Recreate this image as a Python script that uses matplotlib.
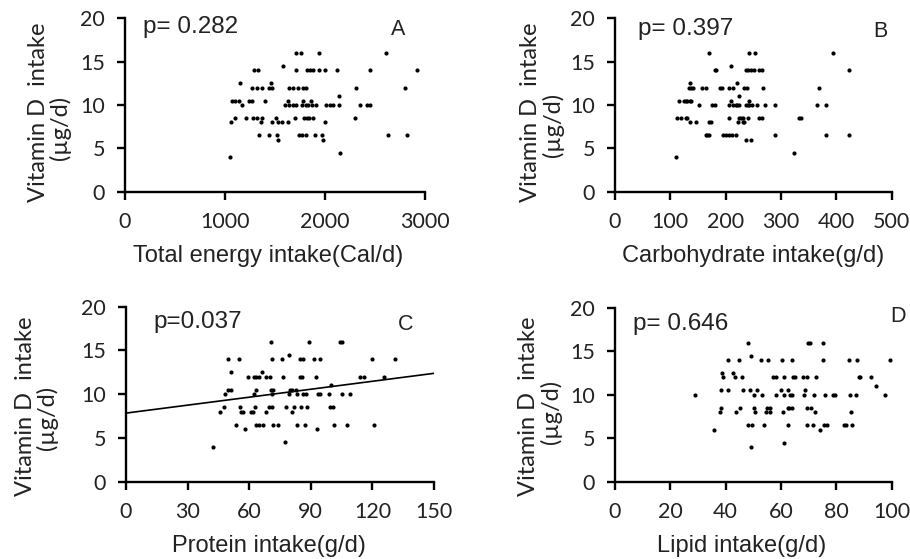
import matplotlib
matplotlib.use("Agg")
import matplotlib.pyplot as plt

W, H = 910, 559

# ---------------- data ----------------
energy = [1709, 1759, 1943, 2605,
          1581,
          1289, 1333, 1709, 1816, 1849, 1876, 1943, 2000, 2121, 2454, 2917,
          1148, 1457,
          1272, 1316, 1366, 1440, 1474, 1635, 1675, 1725, 1776, 1809, 2313, 2800,
          2138,
          1071, 1098, 1138, 1239, 1272, 1396, 1625, 1776, 1860,
          1165, 1601, 1642, 1675, 1709, 1769, 1809, 1826, 1870, 1910, 2011, 2054, 2078, 2135, 2346, 2420, 2454,
          1104, 1205, 1279, 1323, 1366, 1507, 1702, 1792, 1816, 1836, 1876, 2296,
          1061, 1356, 1467, 1534, 1574, 1625, 2004,
          1339, 1440, 1524, 1742, 1769, 1809, 1903, 1970, 2632, 2823,
          1534, 1977,
          2145,
          1054]
vitd_A = [16, 16, 16, 16,
          14.5,
          14, 14, 14, 14, 14, 14, 14, 14, 14, 14, 14,
          12.5, 12.5,
          12, 12, 12, 12, 12, 12, 12, 12, 12, 12, 12, 12,
          11,
          10.5, 10.5, 10.5, 10.5, 10.5, 10.5, 10.5, 10.5, 10.5,
          10, 10, 10, 10, 10, 10, 10, 10, 10, 10, 10, 10, 10, 10, 10, 10, 10,
          8.5, 8.5, 8.5, 8.5, 8.5, 8.5, 8.5, 8.5, 8.5, 8.5, 8.5, 8.5,
          8, 8, 8, 8, 8, 8, 8,
          6.5, 6.5, 6.5, 6.5, 6.5, 6.5, 6.5, 6.5, 6.5, 6.5,
          6, 6,
          4.5,
          4]

carbohydrate = [170, 243, 253, 395,
                209,
                181, 182, 237, 241, 246, 251, 260, 265, 423,
                135, 221,
                133, 137, 141, 158, 165, 189, 193, 206, 214, 234, 239, 268, 368,
                225,
                116, 125, 128, 131, 135, 137, 210, 243,
                151, 176, 180, 206, 214, 218, 221, 224, 237, 240, 243, 248, 257, 272, 290, 366, 382,
                113, 119, 128, 131, 206, 224, 228, 231, 241, 260, 266, 333, 336,
                135, 146, 170, 173, 222, 231, 234,
                164, 167, 170, 196, 200, 206, 212, 219, 290, 382, 423,
                237, 246,
                324,
                111]
vitd_B = [16, 16, 16, 16,
          14.5,
          14, 14, 14, 14, 14, 14, 14, 14, 14,
          12.5, 12.5,
          12, 12, 12, 12, 12, 12, 12, 12, 12, 12, 12, 12, 12,
          11,
          10.5, 10.5, 10.5, 10.5, 10.5, 10.5, 10.5, 10.5,
          10, 10, 10, 10, 10, 10, 10, 10, 10, 10, 10, 10, 10, 10, 10, 10, 10,
          8.5, 8.5, 8.5, 8.5, 8.5, 8.5, 8.5, 8.5, 8.5, 8.5, 8.5, 8.5, 8.5,
          8, 8, 8, 8, 8, 8, 8,
          6.5, 6.5, 6.5, 6.5, 6.5, 6.5, 6.5, 6.5, 6.5, 6.5, 6.5,
          6, 6,
          4.5,
          4]

protein = [70.6, 89.1, 104.0, 105.4,
           79.3,
           49.8, 54.8, 71.2, 76.1, 84.6, 86.2, 91.4, 94.6, 120.0, 131.0,
           51.2, 66.3,
           59.5, 62.4, 63.4, 64.7, 68.0, 70.2, 76.7, 84.6, 85.7, 92.4, 113.8, 115.9, 125.7,
           99.8,
           49.8, 50.9, 63.4, 70.7, 71.5, 80.0, 81.0, 82.6,
           48.1, 62.4, 70.9, 79.3, 83.3, 86.2, 87.5, 93.5, 94.5, 98.7, 105.2, 108.9,
           47.5, 55.4, 62.6, 69.6, 71.0, 78.0, 81.8, 85.4, 88.1, 99.2, 100.8,
           45.9, 56.1, 57.2, 60.7, 61.8, 68.3, 80.8,
           53.7, 63.4, 65.0, 66.7, 71.5, 74.1, 83.4, 87.2, 101.1, 107.8, 120.7,
           57.9, 93.2,
           77.4,
           42.4]
vitd_C = [16, 16, 16, 16,
          14.5,
          14, 14, 14, 14, 14, 14, 14, 14, 14, 14,
          12.5, 12.5,
          12, 12, 12, 12, 12, 12, 12, 12, 12, 12, 12, 12, 12,
          11,
          10.5, 10.5, 10.5, 10.5, 10.5, 10.5, 10.5, 10.5,
          10, 10, 10, 10, 10, 10, 10, 10, 10, 10, 10, 10,
          8.5, 8.5, 8.5, 8.5, 8.5, 8.5, 8.5, 8.5, 8.5, 8.5, 8.5,
          8, 8, 8, 8, 8, 8, 8,
          6.5, 6.5, 6.5, 6.5, 6.5, 6.5, 6.5, 6.5, 6.5, 6.5, 6.5,
          6, 6,
          4.5,
          4]
fit_C_intercept = 7.84
fit_C_slope = 0.0303
fit_C_range = [0, 150]

lipid = [48.1, 69.7, 70.5, 75.2,
         49.2,
         40.7, 44.8, 52.7, 55.2, 60.4, 64.0, 75.4, 84.6, 87.6, 99.4,
         38.8, 42.7,
         39.0, 43.4, 45.8, 57.2, 58.4, 61.2, 64.2, 65.2, 67.9, 69.5, 72.7, 88.2, 88.7, 92.5,
         94.5,
         38.4, 40.8, 46.4, 48.7, 51.2, 59.9, 62.4, 68.7,
         28.8, 50.2, 53.3, 58.4, 61.3, 63.4, 64.0, 68.2, 71.9, 76.0, 78.8, 79.4, 85.1, 87.0, 97.8,
         38.4, 45.1, 50.3, 54.8, 56.2, 62.4, 63.0, 64.0, 69.3, 70.9,
         37.8, 43.6, 50.7, 54.5, 56.2, 60.8, 72.4, 85.5,
         48.2, 49.5, 53.8, 62.4, 69.3, 71.5, 75.5, 76.6, 83.0, 83.6, 85.8,
         35.9, 74.2,
         61.3,
         49.3]
vitd_D = [16, 16, 16, 16,
          14.5,
          14, 14, 14, 14, 14, 14, 14, 14, 14, 14,
          12.5, 12.5,
          12, 12, 12, 12, 12, 12, 12, 12, 12, 12, 12, 12, 12, 12,
          11,
          10.5, 10.5, 10.5, 10.5, 10.5, 10.5, 10.5, 10.5,
          10, 10, 10, 10, 10, 10, 10, 10, 10, 10, 10, 10, 10, 10, 10,
          8.5, 8.5, 8.5, 8.5, 8.5, 8.5, 8.5, 8.5, 8.5, 8.5,
          8, 8, 8, 8, 8, 8, 8, 8,
          6.5, 6.5, 6.5, 6.5, 6.5, 6.5, 6.5, 6.5, 6.5, 6.5, 6.5,
          6, 6,
          4.5,
          4]

xlabels = ["Total energy intake(Cal/d)", "Carbohydrate intake(g/d)",
           "Protein intake(g/d)", "Lipid intake(g/d)"]
p_texts = ["p= 0.282", "p= 0.397", "p=0.037", "p= 0.646"]
panel_letters = ["A", "B", "C", "D"]
x_ticks_A = [0, 1000, 2000, 3000]
x_ticks_B = [0, 100, 200, 300, 400, 500]
x_ticks_C = [0, 30, 60, 90, 120, 150]
x_ticks_D = [0, 20, 40, 60, 80, 100]
y_ticks = [0, 5, 10, 15, 20]
ylabel_line1 = "Vitamin D  intake"
ylabel_line2 = "(µg/d)"

# ---------------- layout (pixels) ----------------
TICK_FONT = "Lato"
LABEL_FONT = "Liberation Sans"

fig = plt.figure(figsize=(W / 100, H / 100), dpi=100)


def axes_px(l, r, t, b):
    return fig.add_axes([l / W, 1 - b / H, (r - l) / W, (b - t) / H])


def ftext(x, y, s, **kw):
    fig.text(x / W, 1 - y / H, s, **kw)


panels = [
    dict(box=(125, 425, 18.3, 191.7), x=energy, y=vitd_A, xt=x_ticks_A,
         p=(143, 33), let=(391, 35), xl=(268, 261.7),
         yl1=(45, 112), yl2=(67, 128)),
    dict(box=(615, 891.5, 18.3, 191.7), x=carbohydrate, y=vitd_B, xt=x_ticks_B,
         p=(638, 35), let=(873, 37), xl=(753.5, 261.7),
         yl1=(537, 112), yl2=(560, 125)),
    dict(box=(126, 434, 306.7, 481.7), x=protein, y=vitd_C, xt=x_ticks_C,
         p=(153, 328), let=(398, 330), xl=(268.5, 551.7),
         yl1=(32, 406), yl2=(54, 418)),
    dict(box=(615, 891.5, 307.7, 481.7), x=lipid, y=vitd_D, xt=x_ticks_D,
         p=(633, 330), let=(890, 322), xl=(742, 551.7),
         yl1=(535, 406), yl2=(558, 412)),
]

for i, pn in enumerate(panels):
    ax = axes_px(*pn["box"])
    ax.scatter(pn["x"], pn["y"], s=9, color="black", linewidths=0, zorder=3)
    if i == 2:
        xs = fit_C_range
        ys = [fit_C_intercept + fit_C_slope * v for v in xs]
        ax.plot(xs, ys, color="black", lw=1.2, zorder=2)
    ax.set_xlim(pn["xt"][0], pn["xt"][-1])
    ax.set_ylim(0, 20)
    ax.set_xticks(pn["xt"])
    ax.set_yticks(y_ticks)
    for sp in ("top", "right"):
        ax.spines[sp].set_visible(False)
    for sp in ("left", "bottom"):
        ax.spines[sp].set_linewidth(1.7)
        ax.spines[sp].set_color("black")
    ax.tick_params(direction="out", length=5.5, width=1.7, colors="black",
                   labelsize=15.5, pad=9)
    for lab in ax.get_xticklabels() + ax.get_yticklabels():
        lab.set_fontfamily(TICK_FONT)
        lab.set_color("#222222")
    ax.patch.set_visible(False)

    ftext(*pn["p"], p_texts[i], fontsize=17.5, family=LABEL_FONT,
          ha="left", va="baseline", color="#222222")
    ftext(*pn["let"], panel_letters[i], fontsize=15.5, family=LABEL_FONT,
          ha="left", va="baseline", color="#222222")
    ftext(*pn["xl"], xlabels[i], fontsize=17, family=LABEL_FONT,
          ha="center", va="baseline", color="#222222")
    ftext(*pn["yl1"], ylabel_line1, fontsize=17, family=TICK_FONT, rotation=90,
          rotation_mode="anchor", ha="center", va="baseline", color="#222222")
    ftext(*pn["yl2"], ylabel_line2, fontsize=17, family=TICK_FONT, rotation=90,
          rotation_mode="anchor", ha="center", va="baseline", color="#222222")

fig.savefig("out.png", dpi=100)
